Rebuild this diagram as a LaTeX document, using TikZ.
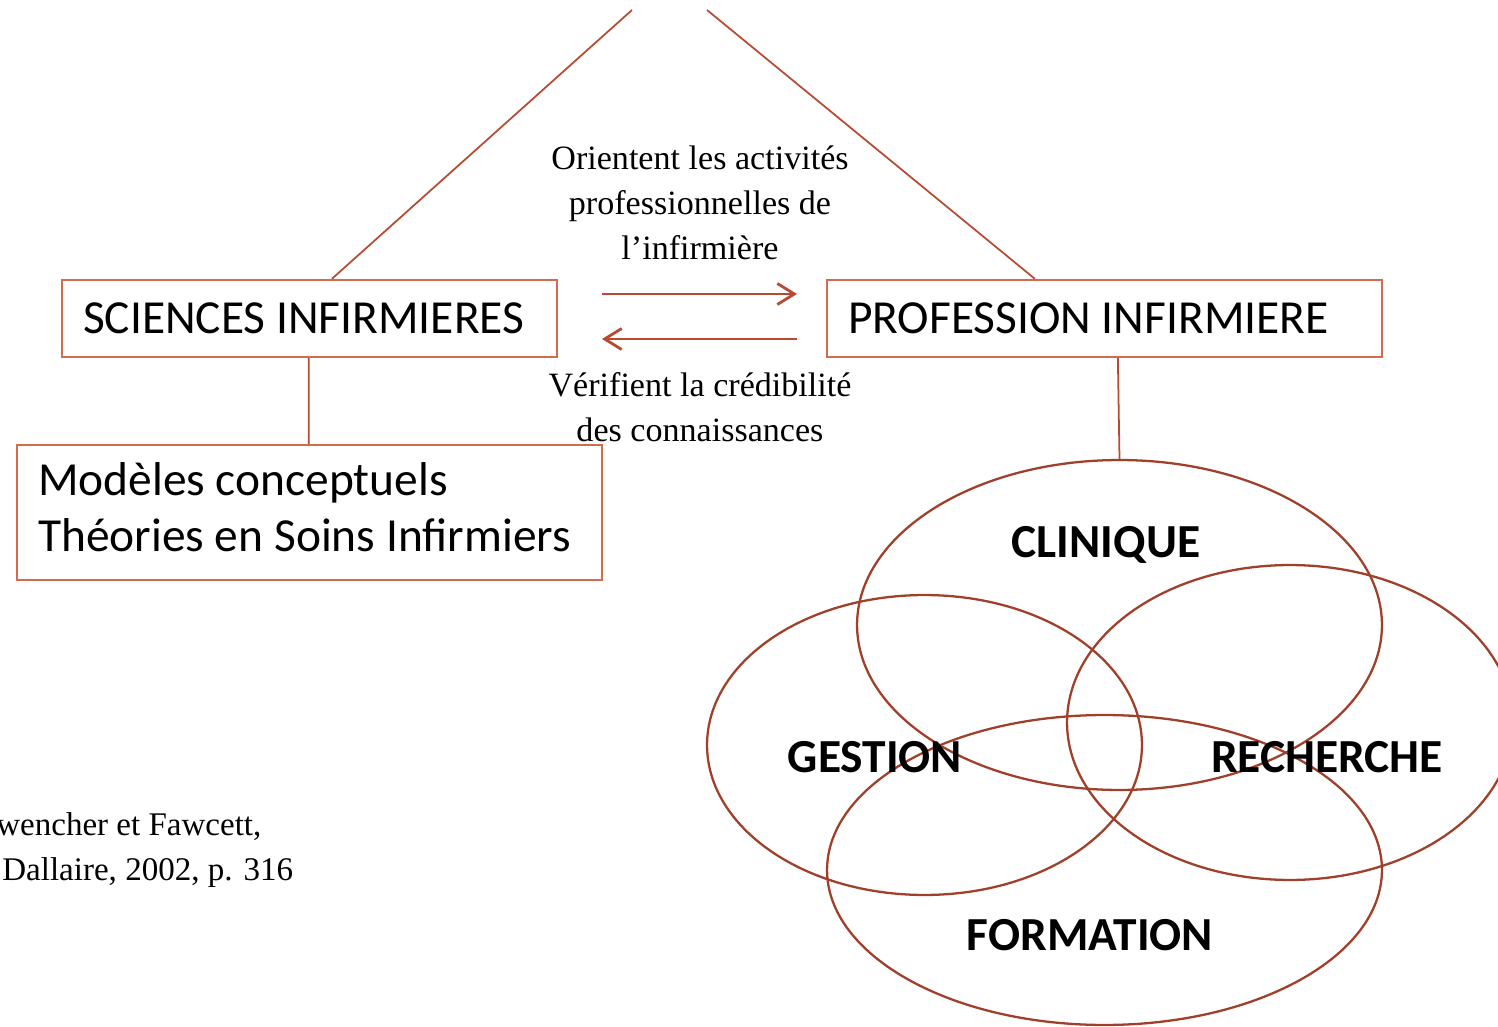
\documentclass[tikz,border=0pt]{standalone}
\usepackage{fontspec}
\setmainfont{Liberation Serif}
\newfontfamily\calfont{Carlito}
\usetikzlibrary{arrows.meta,shapes.geometric,calc}
\definecolor{boxc}{HTML}{D46A4E}
\definecolor{ellc}{HTML}{A0402A}
\definecolor{linec}{HTML}{B94A32}
\tikzset{
  boxnode/.style={draw=boxc, line width=1.3pt, rectangle, inner ysep=0pt, inner xsep=0.42cm, font=\calfont\fontsize{27}{31.7}\selectfont},
  ellnode/.style={draw=ellc, line width=1.3pt, ellipse, inner sep=0pt},
  elllabel/.style={font=\calfont\bfseries\fontsize{27}{30}\selectfont},
  serif/.style={align=center, font=\fontsize{19.4}{25.5}\selectfont},
  conn/.style={draw=linec, line width=1pt},
  arr/.style={draw=linec, line width=1.6pt, -{Straight Barb[length=0.34cm, width=0.42cm, line width=1.6pt]}},
}
\begin{document}
\begin{tikzpicture}[x=0.02cm, y=-0.02cm]
\useasboundingbox (0,0) rectangle (1498,1027);
\clip (0,0) rectangle (1498,1027);
% boxes
\node[boxnode, minimum width=9.9cm, minimum height=1.54cm] (sci) at (309.5,318.5) {\raisebox{-0.04cm}{\makebox[9.06cm][l]{SCIENCES INFIRMIERES}}};
\node[boxnode, minimum width=11.1cm, minimum height=1.54cm] (prof) at (1104.5,318.5) {\raisebox{-0.04cm}{\makebox[10.26cm][l]{PROFESSION INFIRMIERE}}};
\node[boxnode, minimum width=11.7cm, minimum height=2.7cm] (mod) at (309.5,512.5) {\raisebox{-0.1cm}{\makebox[10.86cm][l]{\begin{tabular}{@{}l@{}}Modèles conceptuels\\Théories en Soins Infirmiers\end{tabular}}}};
% apex lines
\coordinate (apexL) at (632,10);
\coordinate (apexR) at (707,10);
\draw[conn] (apexL) -- ($(sci.north west)+(5.42cm,0)$);
\draw[conn] (apexR) -- ($(prof.north west)+(4.18cm,0)$);
% arrows
\coordinate (a1s) at (602,294);
\coordinate (a1e) at (797,294);
\coordinate (a2s) at (797,339);
\coordinate (a2e) at (602,339);
\draw[arr] (a1s) -- (a1e);
\draw[arr] (a2s) -- (a2e);
% serif texts
\node[serif] (orient) at (700,203) {Orientent les activités\\professionnelles de\\l’infirmière};
\node[serif] (verif) at (700,407) {Vérifient la crédibilité\\des connaissances};
% ellipses
\node[ellnode, minimum width=10.5cm, minimum height=6.6cm] (clin) at (1119.5,625) {};
\node[ellnode, minimum width=8.7cm, minimum height=6cm] (gest) at (924.5,745) {};
\node[ellnode, minimum width=8.92cm, minimum height=6.3cm] (rech) at (1290,722.5) {};
\node[ellnode, minimum width=11.1cm, minimum height=6.2cm] (form) at (1104.5,870) {};
% vertical connectors
\draw[conn] ($(sci.south west)+(4.96cm,0)$) -- ($(mod.north west)+(5.86cm,0)$);
\draw[conn] ($(prof.south west)+(5.84cm,0)$) -- (clin.north);
% labels
\node[elllabel] (lclin) at (1106,545) {CLINIQUE};
\node[elllabel] (lgest) at (875,757) {GESTION};
\node[elllabel] (lrech) at (1327,757) {RECHERCHE};
\node[elllabel] (lform) at (1090,935) {FORMATION};
% source text
\node[anchor=base west, inner sep=0pt, font=\fontsize{18.8}{25}\selectfont] (src1) at (-4,835) {wencher et Fawcett,};
\node[anchor=base west, inner sep=0pt, font=\fontsize{18.8}{25}\selectfont] (src2) at (2,880) {Dallaire, 2002, p. 316};
\end{tikzpicture}
\end{document}
